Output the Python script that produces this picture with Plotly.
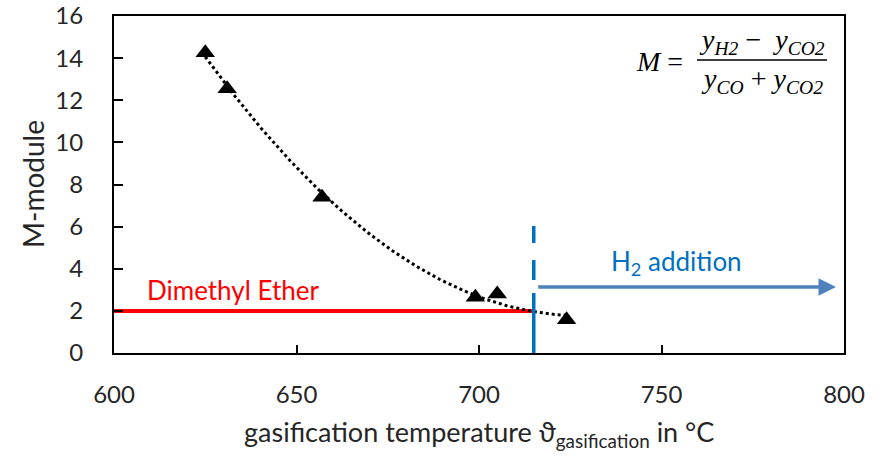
import numpy as np
import plotly.graph_objects as go

# ---- data ----
temp = [625, 631, 657, 699, 705, 724]
m_module = [14.25, 12.55, 7.4, 2.65, 2.8, 1.58]

dme_level = 2.0
dme_x = [600, 715]
h2_threshold = 715
h2_line_top = 6.03
arrow_x = [715.8, 797.8]
arrow_y = 3.13

x_ticks = [600, 650, 700, 750, 800]
y_ticks = [0, 2, 4, 6, 8, 10, 12, 14, 16]

FONT = "Lato, 'Noto Sans', sans-serif"
MATH = "'Liberation Serif', 'DejaVu Serif', serif"
TXT = "#262626"

W, H = 883, 456
L, R, T, B = 114, 39, 16, 103


def px2paper(px, py):
    return (px - L) / (W - L - R), 1 - (py - T) / (H - T - B)


# polynomial (order 2) trendline as in spreadsheet
coef = np.polyfit(temp, m_module, 2)
tx = np.linspace(min(temp), max(temp), 200)
ty = np.polyval(coef, tx)

fig = go.Figure()

# DME horizontal line
fig.add_trace(go.Scatter(x=dme_x, y=[dme_level, dme_level], mode="lines",
                         line=dict(color="#FF0000", width=4), hoverinfo="skip",
                         showlegend=False))

# trendline
fig.add_trace(go.Scatter(x=tx, y=ty, mode="lines",
                         line=dict(color="black", width=3, dash="dot"),
                         hoverinfo="skip", showlegend=False))

# blue vertical dashed threshold line
fig.add_trace(go.Scatter(x=[h2_threshold, h2_threshold], y=[h2_line_top, 0], mode="lines",
                         line=dict(color="#0070C0", width=3.5,
                                   dash="17px,17px,20px,13px,70px,10px"),
                         hoverinfo="skip", showlegend=False))

# measured points
fig.add_trace(go.Scatter(x=temp, y=m_module, mode="markers",
                         marker=dict(symbol="triangle-up", size=17, color="black"),
                         showlegend=False))

# H2 addition arrow
fig.add_annotation(x=arrow_x[1], y=arrow_y, ax=arrow_x[0], ay=arrow_y,
                   xref="x", yref="y", axref="x", ayref="y",
                   showarrow=True, arrowhead=2, arrowsize=1.0, arrowwidth=3.5,
                   arrowcolor="#4F81BD", text="")
fig.add_annotation(x=754, y=4.32, xref="x", yref="y", showarrow=False,
                   xanchor="center", yanchor="middle",
                   text="H<sub>2</sub> addition",
                   font=dict(family=FONT, size=26, color="#0070C0"))

# DME label
fig.add_annotation(x=632.5, y=3.0, xref="x", yref="y", showarrow=False,
                   xanchor="center", yanchor="middle",
                   text="Dimethyl Ether",
                   font=dict(family=FONT, size=26, color="#FF0000"))


def px_text(px, py, text, font, angle=0):
    xp, yp = px2paper(px, py)
    fig.add_annotation(x=xp, y=yp, xref="paper", yref="paper", showarrow=False,
                       xanchor="center", yanchor="middle", text=text, font=font,
                       textangle=angle)


mfont = dict(family=MATH, size=28, color="black")
# formula
px_text(659, 61, "<i>M</i> =", mfont)
px_text(762, 41, "<i>y<sub>H2</sub></i> −  <i>y<sub>CO2</sub></i>", mfont)
px_text(762, 80, "<i>y<sub>CO</sub></i> + <i>y<sub>CO2</sub></i>", mfont)
x0p, yl = px2paper(697, 60)
x1p, _ = px2paper(827, 60)
fig.add_shape(type="line", xref="paper", yref="paper", x0=x0p, x1=x1p, y0=yl, y1=yl,
              line=dict(color="black", width=1.5))

# axis titles
px_text(479, 433, "gasification temperature ϑ<sub>gasification</sub> in °C",
        dict(family=FONT, size=27, color=TXT))
px_text(33, 184, "M-module", dict(family=FONT, size=28, color=TXT), angle=-90)

fig.update_layout(
    width=W, height=H,
    margin=dict(l=L, r=R, t=T, b=B),
    paper_bgcolor="white", plot_bgcolor="white",
    font=dict(family=FONT, size=24, color=TXT),
)
fig.update_xaxes(range=[600, 800], tickvals=x_ticks, ticks="inside", ticklen=8,
                 tickwidth=1.5, tickcolor="black", showline=True, linecolor="black",
                 linewidth=2, mirror=True, showgrid=False, zeroline=False,
                 tickfont=dict(family=FONT, size=24, color=TXT),
                 ticklabelstandoff=19, automargin=False)
fig.update_yaxes(range=[0, 16], tickvals=y_ticks, ticks="inside", ticklen=9,
                 tickwidth=1.5, tickcolor="black", showline=True, linecolor="black",
                 linewidth=2, mirror=True, showgrid=False, zeroline=False,
                 tickfont=dict(family=FONT, size=24, color=TXT),
                 ticklabelstandoff=24, automargin=False)

fig.write_html("out.html")
